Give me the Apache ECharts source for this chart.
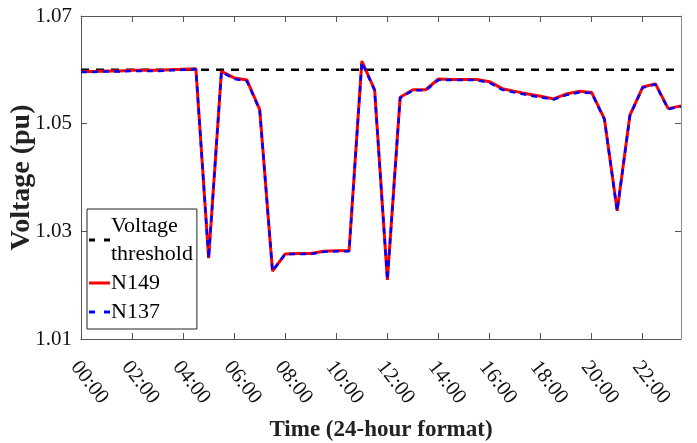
<!DOCTYPE html>
<html>
<head>
<meta charset="utf-8">
<script src="https://cdn.jsdelivr.net/npm/echarts@6/dist/echarts.min.js"></script>
<style>
html,body{margin:0;padding:0;background:#fff;}
#chart{width:697px;height:443px;}
</style>
</head>
<body>
<div id="chart"></div>
<script>
const times = [
  "00:00","00:30","01:00","01:30","02:00","02:30","03:00","03:30",
  "04:00","04:30","05:00","05:30","06:00","06:30","07:00","07:30",
  "08:00","08:30","09:00","09:30","10:00","10:30","11:00","11:30",
  "12:00","12:30","13:00","13:30","14:00","14:30","15:00","15:30",
  "16:00","16:30","17:00","17:30","18:00","18:30","19:00","19:30",
  "20:00","20:30","21:00","21:30","22:00","22:30","23:00","23:30"
];
const thresholdValue = 1.06;
const n149 = [
  1.0597,1.0597,1.0598,1.0598,1.0599,1.0599,1.0599,1.0600,
  1.0601,1.0602,1.0250,1.0597,1.0585,1.0581,1.0526,1.0226,
  1.0258,1.0259,1.0259,1.0263,1.0264,1.0264,1.0616,1.0563,
  1.0210,1.0549,1.0563,1.0563,1.0583,1.0582,1.0582,1.0582,
  1.0578,1.0565,1.0560,1.0555,1.0551,1.0546,1.0555,1.0560,
  1.0558,1.0509,1.0338,1.0516,1.0568,1.0574,1.0528,1.0533
];
const n137 = [
  1.0596,1.0596,1.0597,1.0597,1.0598,1.0598,1.0598,1.0599,
  1.0600,1.0601,1.0250,1.0596,1.0583,1.0579,1.0525,1.0226,
  1.0258,1.0258,1.0258,1.0262,1.0263,1.0263,1.0614,1.0562,
  1.0210,1.0548,1.0562,1.0562,1.0581,1.0581,1.0581,1.0581,
  1.0576,1.0563,1.0558,1.0553,1.0549,1.0545,1.0553,1.0558,
  1.0557,1.0508,1.0338,1.0515,1.0567,1.0573,1.0527,1.0532
];
const thresholdSeries = times.map(() => thresholdValue);
const yMin = 1.01, yMax = 1.07, yStep = 0.02;

const FONT = 'Liberation Serif';
const DASH_ICON = 'path://M0,0h6v3h-6z M15,0h6v3h-6z';
const SOLID_ICON = 'path://M0,0h21v3h-21z';
const chart = echarts.init(document.getElementById('chart'), null, {renderer: 'canvas'});
chart.setOption({
  animation: false,
  backgroundColor: '#fff',
  grid: {left: 81, right: 16, top: 16, bottom: 104, containLabel: false, outerBoundsMode: 'none'},
  legend: {
    orient: 'vertical',
    left: 87, top: 209,
    backgroundColor: '#fff',
    borderColor: '#222', borderWidth: 1, borderRadius: 0,
    padding: [3, 4, 3, 2],
    itemGap: 1,
    itemWidth: 21, itemHeight: 3,
    symbolKeepAspect: false,
    itemStyle: {borderWidth: 0},
    textStyle: {fontFamily: FONT, fontSize: 22, color: '#000', lineHeight: 28, padding: [0,0,0,-4]},
    formatter: function (name) { return name === 'Voltage threshold' ? 'Voltage\nthreshold' : name; },
    data: [
      {name: 'Voltage threshold', icon: DASH_ICON},
      {name: 'N149', icon: SOLID_ICON},
      {name: 'N137', icon: DASH_ICON}
    ]
  },
  xAxis: [{
    type: 'category', data: times, boundaryGap: false,
    name: 'Time (24-hour format)', nameLocation: 'middle', nameGap: 80, nameMoveOverlap: false,
    nameTextStyle: {fontFamily: FONT, fontSize: 23, fontWeight: 'bold', color: '#222'},
    axisLine: {lineStyle: {color: '#555', width: 1}},
    axisTick: {inside: true, interval: 3, length: 6, lineStyle: {color: '#555'}},
    axisLabel: {interval: 3, rotate: -52, align: 'center', verticalAlign: 'bottom',
      fontFamily: FONT, fontSize: 21, color: '#111', margin: 50},
    splitLine: {show: false}
  }, {
    type: 'category', data: times, boundaryGap: false, position: 'top',
    axisLine: {lineStyle: {color: '#555', width: 1}},
    axisTick: {inside: true, interval: 3, length: 6, lineStyle: {color: '#555'}},
    axisLabel: {show: false}, splitLine: {show: false}
  }],
  yAxis: [{
    type: 'value', min: yMin, max: yMax, interval: yStep,
    name: 'Voltage (pu)', nameLocation: 'middle', nameGap: 45, nameMoveOverlap: false,
    nameTextStyle: {fontFamily: FONT, fontSize: 28, fontWeight: 'bold', color: '#222'},
    axisLine: {show: true, lineStyle: {color: '#555', width: 1}},
    axisTick: {show: true, inside: true, length: 6, lineStyle: {color: '#555'}},
    axisLabel: {fontFamily: FONT, fontSize: 21, color: '#111', margin: 9,
      formatter: v => v.toFixed(2)},
    splitLine: {show: false}
  }, {
    type: 'value', min: yMin, max: yMax, interval: yStep, position: 'right',
    axisLine: {show: true, lineStyle: {color: '#888', width: 1}},
    axisTick: {show: true, inside: true, length: 6, lineStyle: {color: '#555'}},
    axisLabel: {show: false}, splitLine: {show: false}
  }],
  series: [{
    name: 'Voltage threshold', type: 'line', data: thresholdSeries,
    symbol: 'none', z: 2,
    lineStyle: {color: '#000', width: 2.5, type: [8, 7]},
    itemStyle: {color: '#000'}
  }, {
    name: 'N149', type: 'line', data: n149, symbol: 'none', z: 3,
    lineStyle: {color: '#ff0000', width: 3, type: 'solid'},
    itemStyle: {color: '#ff0000'}
  }, {
    name: 'N137', type: 'line', data: n137, symbol: 'none', z: 4,
    lineStyle: {color: '#0000ff', width: 2.5, type: [6, 5]},
    itemStyle: {color: '#0000ff'}
  }]
});
</script>
</body>
</html>
